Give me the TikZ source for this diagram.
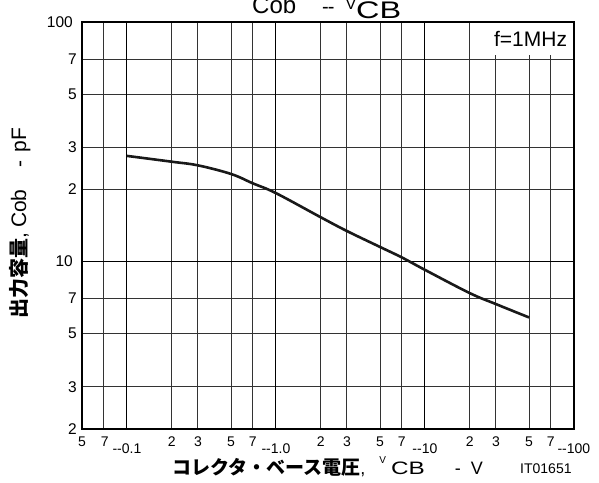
\documentclass[tikz,border=0pt]{standalone}
\usepackage{fontspec}
\setmainfont{Liberation Sans}
\newfontfamily\widefont{Liberation Sans}[FakeStretch=1.35]
\newfontfamily\jpfont{Noto Sans CJK JP}
\tikzstyle{frame}=[line width=1.3pt,black]
\tikzstyle{major}=[line width=1.1pt,black]
\tikzstyle{minor}=[line width=1pt,black!80]
\tikzstyle{curve}=[line width=2.6pt,black!90]
\tikzstyle{ytick}=[font=\fontsize{15.5}{15.5}\selectfont,inner sep=0pt,anchor=east]
\tikzstyle{xtick}=[font=\fontsize{14}{14}\selectfont,inner sep=0pt]

\begin{document}
\begin{tikzpicture}
	\useasboundingbox (0,0) rectangle (599pt,482pt);

	\begin{scope}[shift={(275.9pt,-19pt)},x=149pt,y=239.5pt]
	\def\xL{-1.30103}
	\def\xR{2}
	\def\yB{0.30103}
	\def\yT{2}

	\foreach \d in {-1,0,1}
		\foreach \m in {2,3,5,7}
			\draw[minor] ({\d+log10(\m)},\yB) -- ({\d+log10(\m)},\yT);
	\draw[minor] ({-2+log10(7)},\yB) -- ({-2+log10(7)},\yT);
	\foreach \d in {0,1}
		\foreach \m in {2,3,5,7}
			\draw[minor] (\xL,{\d+log10(\m)}) -- (\xR,{\d+log10(\m)});
	\foreach \d in {-1,0,1}
		\draw[major] (\d,\yB) -- (\d,\yT);
	\draw[major] (\xL,1) -- (\xR,1);

	\node[fill=white,inner sep=0pt,minimum width=86pt,minimum height=32pt,font=\fontsize{21}{21}\selectfont] (freq) at (1.709,1.929) {f=1MHz};
	\draw[frame] (\xL,\yB) rectangle (\xR,\yT);

	% Cob vs VCB
	\draw[curve] plot[smooth,tension=0.6] coordinates {
		({log10(0.1)},{log10(27.6)}) ({log10(0.2)},{log10(26.1)}) ({log10(0.3)},{log10(25.2)})
		({log10(0.5)},{log10(23.2)}) ({log10(0.7)},{log10(21.2)}) ({log10(1)},{log10(19.3)})
		({log10(2)},{log10(15.3)}) ({log10(3)},{log10(13.4)}) ({log10(5)},{log10(11.5)})
		({log10(7)},{log10(10.4)}) ({log10(10)},{log10(9.23)}) ({log10(20)},{log10(7.38)})
		({log10(30)},{log10(6.64)}) ({log10(50)},{log10(5.84)})};

	\foreach \c/\t [count=\i] in {2/2,3/3,5/5,7/7,20/2,30/3,50/5,70/7}
		\node[ytick,xshift=-5pt] (yt\i) at (\xL,{log10(\c)}) {\t};
	\foreach \c [count=\i] in {10,100}
		\node[ytick,xshift=-9pt] (ym\i) at (\xL,{log10(\c)}) {\c};

	\foreach \v/\t [count=\i] in {0.05/5,0.07/7,0.2/2,0.3/3,0.5/5,0.7/7,2/2,3/3,5/5,7/7,20/2,30/3,50/5,70/7}
		\node[xtick,yshift=-13pt] (xt\i) at ({log10(\v)},\yB) {\t};
	\foreach \e/\t [count=\i] in {-1/{-{}-0.1},0/{-{}-1.0},1/{-{}-10},2/{-{}-100}}
		\node[xtick,yshift=-20pt] (xm\i) at (\e,\yB) {\t};
	\end{scope}

	\node[anchor=base west,inner sep=0pt,font=\fontsize{24}{24}\selectfont] (title) at (252pt,468pt)
		{Cob\hspace{26pt}{\fontsize{20}{20}\selectfont-\kern-1pt-}\hspace{11pt}\raisebox{4pt}{\fontsize{16}{16}\selectfont V}{\widefont\raisebox{-5pt}{CB}}};
	\node[anchor=base west,inner sep=0pt] (xlab) at (172pt,7.5pt)
		{{\jpfont\bfseries\fontsize{19}{19}\selectfont コレクタ・ベース電圧}{\fontsize{18}{18}\selectfont,\hspace{14pt}\raisebox{11pt}{\fontsize{10}{10}\selectfont V}\hspace{5pt}{\widefont CB}\hspace{30pt}-\hspace{10pt}V}};
	\node[rotate=90,anchor=base west,inner sep=0pt] (ylab) at (26pt,163pt)
		{{\jpfont\bfseries\fontsize{20}{20}\selectfont 出力容量}{\fontsize{21}{21}\selectfont,\hspace{5pt}Cob\hspace{22pt}-\hspace{8pt}pF}};
	\node[anchor=base west,inner sep=0pt,font=\fontsize{14}{14}\selectfont] (code) at (520pt,9pt) {IT01651};

\end{tikzpicture}
\end{document}
